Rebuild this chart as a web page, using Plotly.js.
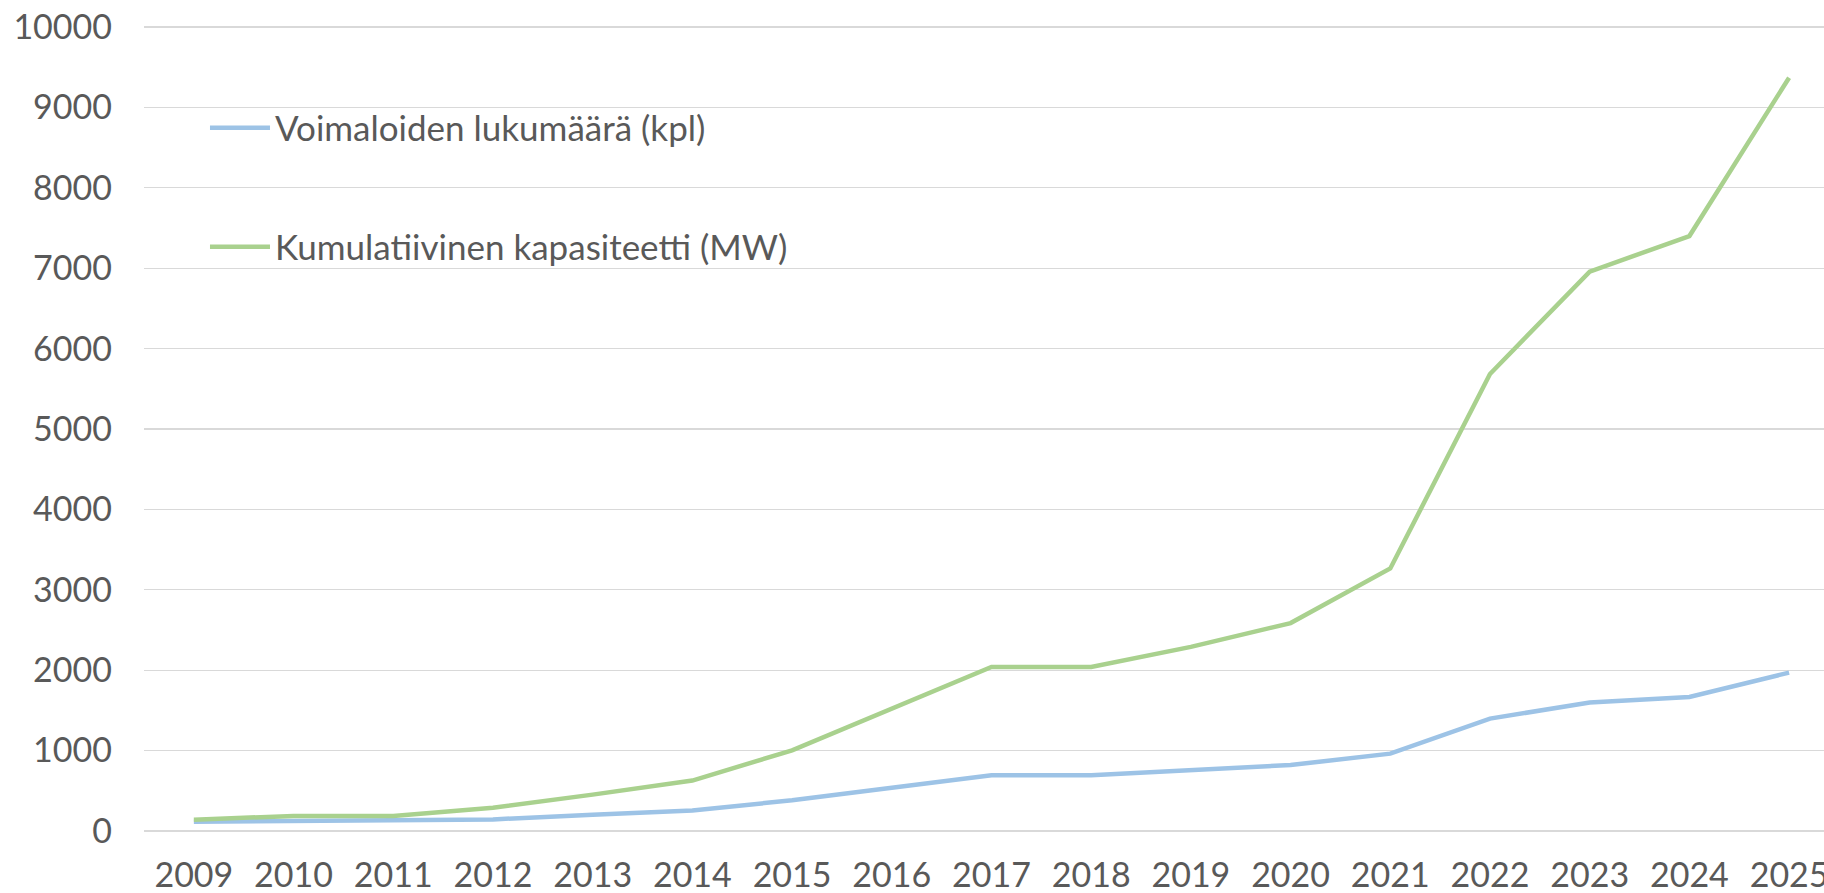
<!DOCTYPE html>
<html>
<head>
<meta charset="utf-8">
<script src="https://cdn.plot.ly/plotly-3.0.1.min.js"></script>
<style>
  html, body { margin: 0; padding: 0; background: #ffffff; overflow: hidden; }
  #chart { width: 1824px; height: 893px; }
</style>
</head>
<body>
<div id="chart"></div>
<script>
// Data
const years = ["2009","2010","2011","2012","2013","2014","2015","2016","2017","2018","2019","2020","2021","2022","2023","2024","2025"];
const voimaloidenLukumaara = [116, 124, 127, 144, 203, 256, 381, 535, 692, 692, 755, 820, 962, 1398, 1597, 1667, 1970];
const kumulatiivinenKapasiteetti = [141, 186, 186, 290, 452, 627, 1003, 1522, 2040, 2040, 2290, 2586, 3265, 5684, 6958, 7400, 9370];
const seriesNames = ["Voimaloiden lukumäärä (kpl)", "Kumulatiivinen kapasiteetti (MW)"];
const yTicks = [0, 1000, 2000, 3000, 4000, 5000, 6000, 7000, 8000, 9000, 10000];

const FONT = "Lato, 'Open Sans', sans-serif";
const TXT = "#595959";

const traces = [
  {
    x: years, y: voimaloidenLukumaara, name: seriesNames[0],
    type: "scatter", mode: "lines",
    line: { color: "#9DC3E6", width: 4.5 },
    legend: "legend", hoverinfo: "x+y"
  },
  {
    x: years, y: kumulatiivinenKapasiteetti, name: seriesNames[1],
    type: "scatter", mode: "lines",
    line: { color: "#A9D18E", width: 4.5 },
    legend: "legend2", hoverinfo: "x+y"
  }
];

const legendCommon = {
  xref: "paper", yref: "paper",
  xanchor: "left", yanchor: "middle",
  bgcolor: "rgba(0,0,0,0)", borderwidth: 0,
  font: { family: FONT, size: 35, color: TXT },
  itemwidth: 60
};

const layout = {
  width: 1824, height: 893,
  paper_bgcolor: "#ffffff", plot_bgcolor: "#ffffff",
  margin: { l: 144, r: 0, t: 19, b: 54, pad: 0, autoexpand: false },
  font: { family: FONT, size: 34, color: TXT },
  showlegend: true,
  legend: Object.assign({}, legendCommon, { x: 0.0363, y: 0.867 }),
  legend2: Object.assign({}, legendCommon, { x: 0.0363, y: 0.722 }),
  xaxis: {
    type: "category",
    range: [-0.5, 16.35],
    showgrid: false, zeroline: false, showline: false,
    ticks: "", ticklabelstandoff: 13, tickangle: 0, automargin: false,
    tickfont: { family: FONT, size: 34, color: TXT },
    fixedrange: true
  },
  yaxis: {
    range: [-100, 10100],
    tickmode: "array", tickvals: yTicks, ticktext: yTicks.map(String),
    showgrid: true, gridcolor: "#D9D9D9", gridwidth: 1.3,
    zeroline: false, showline: false, automargin: false,
    ticks: "", ticklabelstandoff: 31,
    tickfont: { family: FONT, size: 34, color: TXT },
    fixedrange: true
  }
};

Plotly.newPlot("chart", traces, layout, { displayModeBar: false, staticPlot: true });
</script>
</body>
</html>
